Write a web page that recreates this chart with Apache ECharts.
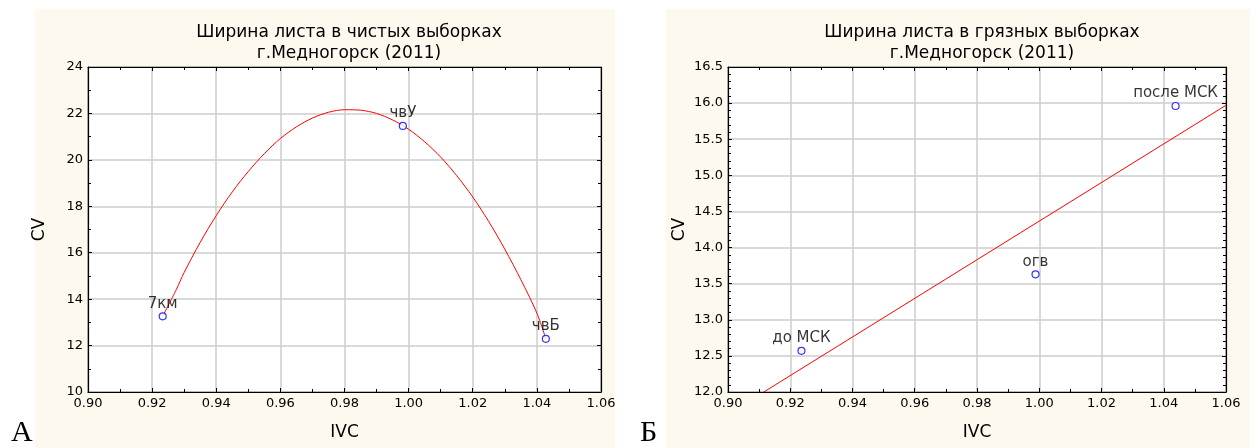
<!DOCTYPE html>
<html><head><meta charset="utf-8">
<script src="https://cdn.jsdelivr.net/npm/echarts@6/dist/echarts.min.js"></script>
<style>html,body{margin:0;padding:0;background:#fff}#c{width:1257px;height:448px}</style>
</head><body><div id="c"></div>
<script>
// ---- data ----
const cleanNames = ['7км', 'чвУ', 'чвБ'];
const cleanIVC = [0.9233, 0.9982, 1.0428];
const cleanCV = [13.26, 21.46, 12.29];
// fitted curve as seen in the picture (x, y samples)
const cleanFitX = [0.9233, 0.9275, 0.93, 0.935, 0.94, 0.945, 0.95, 0.955, 0.96, 0.965, 0.97, 0.975, 0.98, 0.985,
                   0.99, 0.995, 1.00, 1.005, 1.01, 1.015, 1.02, 1.025, 1.03, 1.035, 1.04, 1.0428];
const cleanFitY = [13.26, 14.40, 15.15, 16.45, 17.60, 18.62, 19.50, 20.27, 20.92, 21.42, 21.80, 22.05, 22.16, 22.14,
                   22.00, 21.72, 21.32, 20.78, 20.12, 19.32, 18.40, 17.34, 16.15, 14.84, 13.40, 12.29];

const dirtyNames = ['до МСК', 'огв', 'после МСК'];
const dirtyIVC = [0.9236, 0.9988, 1.0438];
const dirtyCV = [12.57, 13.63, 15.96];
// regression line end points as seen in the picture
const dirtyFitX = [0.9115, 1.06];
const dirtyFitY = [12.0, 15.97];

const xTicksMin = 0.90, xTicksMax = 1.06, xStep = 0.02;
const cleanYMin = 10, cleanYMax = 24, cleanYStep = 2;
const dirtyYMin = 12.0, dirtyYMax = 16.5, dirtyYStep = 0.5;

const titleA = 'Ширина листа в чистых выборках\nг.Медногорск (2011)';
const titleB = 'Ширина листа в грязных выборках\nг.Медногорск (2011)';

// ---- chart ----
const FONT = '"DejaVu Sans", "Liberation Sans", sans-serif';
const chart = echarts.init(document.getElementById('c'), null, {renderer: 'canvas'});

function pts(xs, ys) { return xs.map((x, i) => [x, ys[i]]); }
function named(xs, ys, names) { return xs.map((x, i) => ({value: [x, ys[i]], name: names[i]})); }

function xAx(grid, pos, labels) {
  return {
    type: 'value', gridIndex: grid, position: pos,
    min: xTicksMin, max: xTicksMax, interval: xStep,
    axisLine: {show: true, onZero: false, lineStyle: {color: '#000', width: 1.2}},
    axisTick: {show: true, inside: true, length: 4, lineStyle: {color: '#000'}},
    minorTick: {show: true, splitNumber: 2, length: 3, lineStyle: {color: '#000'}},
    axisLabel: {show: labels, color: '#000', fontSize: 13, fontFamily: FONT, margin: 5,
      formatter: v => v.toFixed(2)},
    splitLine: {show: labels, lineStyle: {color: '#cccccc', width: 1.5}},
    name: labels ? 'IVC' : '', nameLocation: 'middle', nameGap: 32,
    nameTextStyle: {color: '#000', fontSize: 17, fontFamily: FONT}
  };
}
function yAx(grid, pos, labels, mn, mx, st, minorN, dec) {
  return {
    type: 'value', gridIndex: grid, position: pos,
    min: mn, max: mx, interval: st,
    axisLine: {show: true, onZero: false, lineStyle: {color: '#000', width: 1.2}},
    axisTick: {show: true, inside: true, length: 4, lineStyle: {color: '#000'}},
    minorTick: {show: true, splitNumber: minorN, length: 3, lineStyle: {color: '#000'}},
    axisLabel: {show: labels, color: '#000', fontSize: 13, fontFamily: FONT, margin: 5,
      formatter: v => v.toFixed(dec)},
    splitLine: {show: labels, lineStyle: {color: '#cccccc', width: 1.5}},
    name: labels ? 'CV' : '', nameLocation: 'middle', nameGap: 40, nameRotate: 90,
    nameTextStyle: {color: '#000', fontSize: 17, fontFamily: FONT}
  };
}
const labelStyle = {show: true, position: 'top', distance: 1, formatter: p => p.name,
  color: '#000', fontSize: 15, fontFamily: FONT, textBorderWidth: 0};
const scatterStyle = {symbol: 'circle', symbolSize: 7,
  itemStyle: {color: '#ffffff', borderColor: '#0000ff', borderWidth: 1.2}};

chart.setOption({
  animation: false,
  backgroundColor: '#fff',
  graphic: [
    {type: 'rect', z: -10, shape: {x: 35, y: 9, width: 580, height: 439}, style: {fill: '#fef9ee'}},
    {type: 'rect', z: -10, shape: {x: 666, y: 9, width: 584, height: 439}, style: {fill: '#fef9ee'}},
    {type: 'text', left: 11, top: 418, style: {text: 'А', font: '30px "Liberation Serif", serif', fill: '#000'}},
    {type: 'text', left: 640, top: 418, style: {text: 'Б', font: '30px "Liberation Serif", serif', fill: '#000'}}
  ],
  title: [
    {text: titleA, left: 344, top: 17, textAlign: 'center',
      textStyle: {fontSize: 17, fontWeight: 'normal', color: '#000', fontFamily: FONT, lineHeight: 21}},
    {text: titleB, left: 977, top: 17, textAlign: 'center',
      textStyle: {fontSize: 17, fontWeight: 'normal', color: '#000', fontFamily: FONT, lineHeight: 21}}
  ],
  grid: [
    {left: 88, top: 67, width: 513, height: 325, show: true, backgroundColor: '#fff', borderColor: '#000', borderWidth: 1},
    {left: 728, top: 67, width: 498, height: 325, show: true, backgroundColor: '#fff', borderColor: '#000', borderWidth: 1}
  ],
  xAxis: [xAx(0, 'bottom', true), xAx(0, 'top', false), xAx(1, 'bottom', true), xAx(1, 'top', false)],
  yAxis: [
    yAx(0, 'left', true, cleanYMin, cleanYMax, cleanYStep, 2, 0),
    yAx(0, 'right', false, cleanYMin, cleanYMax, cleanYStep, 2, 0),
    yAx(1, 'left', true, dirtyYMin, dirtyYMax, dirtyYStep, 5, 1),
    yAx(1, 'right', false, dirtyYMin, dirtyYMax, dirtyYStep, 5, 1)
  ],
  series: [
    {type: 'line', xAxisIndex: 0, yAxisIndex: 0, data: pts(cleanFitX, cleanFitY), smooth: 0.3,
      showSymbol: false, lineStyle: {color: '#ff0000', width: 1}, z: 3},
    {type: 'scatter', xAxisIndex: 0, yAxisIndex: 0, data: named(cleanIVC, cleanCV, cleanNames),
      ...scatterStyle, label: labelStyle, z: 4},
    {type: 'line', xAxisIndex: 2, yAxisIndex: 2, data: pts(dirtyFitX, dirtyFitY),
      showSymbol: false, lineStyle: {color: '#ff0000', width: 1}, z: 3},
    {type: 'scatter', xAxisIndex: 2, yAxisIndex: 2, data: named(dirtyIVC, dirtyCV, dirtyNames),
      ...scatterStyle, label: labelStyle, z: 4}
  ]
});
</script></body></html>
